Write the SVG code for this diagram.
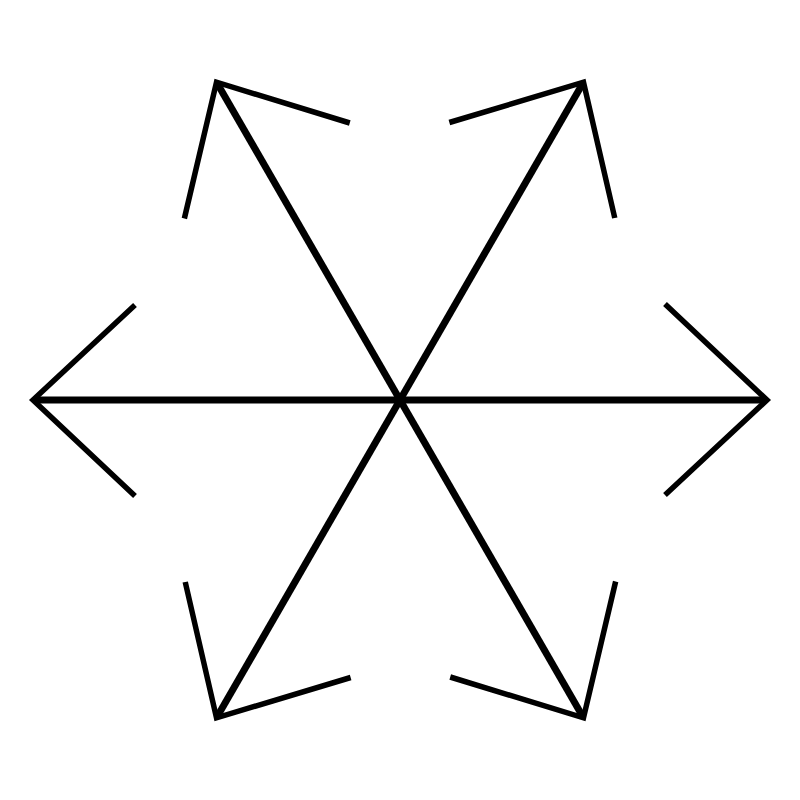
<svg xmlns="http://www.w3.org/2000/svg" width="800" height="800" viewBox="0 0 800 800">
<defs>
<style>
.shaft{stroke:#000;stroke-width:7;fill:none}
.head{stroke:#000;stroke-width:5.5;fill:none;stroke-linejoin:miter}
</style>
<g id="arrow">
<line class="shaft" x1="400" y1="400" x2="766" y2="400"/>
<polyline class="head" points="665,304 767,400 665,495"/>
</g>
</defs>
<rect width="800" height="800" fill="#fff"/>
<g id="connectors">
<use href="#arrow"/>
<use href="#arrow" transform="rotate(-60 400 400)"/>
<use href="#arrow" transform="rotate(-120 400 400)"/>
<use href="#arrow" transform="rotate(180 400 400)"/>
<use href="#arrow" transform="rotate(120 400 400)"/>
<use href="#arrow" transform="rotate(60 400 400)"/>
</g>
</svg>
